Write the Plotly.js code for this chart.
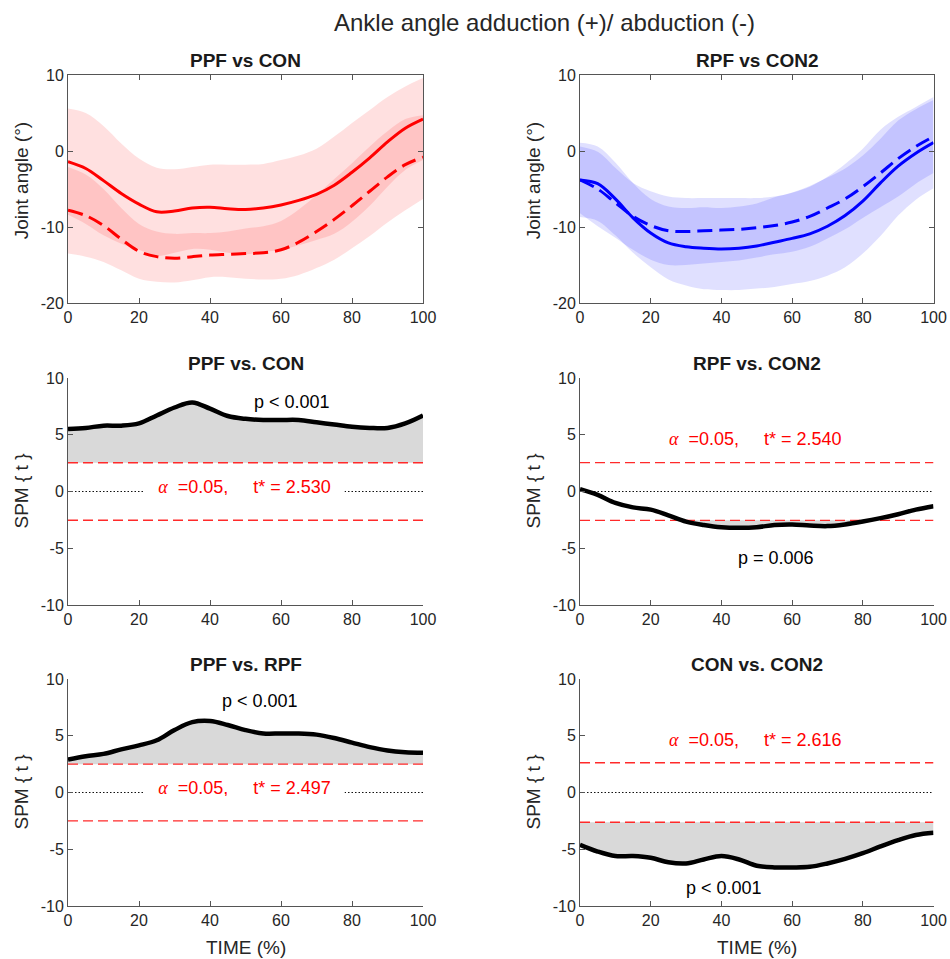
<!DOCTYPE html>
<html><head><meta charset="utf-8">
<script src="https://cdn.plot.ly/plotly-3.0.1.min.js"></script>
<style>body{margin:0;background:#fff}#chart{width:950px;height:959px}</style>
</head><body><div id="chart"></div>
<script>
// ---------- DATA ----------
const time = [0,5,10,15,20,25,30,35,40,45,50,55,60,65,70,75,80,85,90,95,100];

// Panel 1: PPF (solid) vs CON (dashed), joint angle (deg)
const ppfMean = [-1.4,-2.3,-3.9,-5.6,-7.0,-8.0,-7.9,-7.5,-7.4,-7.6,-7.7,-7.5,-7.1,-6.5,-5.7,-4.5,-2.8,-0.9,1.2,3.0,4.2];
const ppfSD   = [7.0,7.3,7.2,6.6,6.0,5.8,5.5,5.4,5.6,5.8,5.9,5.8,5.9,5.9,6.0,6.4,6.5,6.3,5.9,5.5,5.4];
const conMean = [-7.8,-8.5,-9.8,-11.6,-13.2,-13.9,-14.1,-13.9,-13.7,-13.6,-13.5,-13.4,-13.0,-12.0,-10.6,-9.0,-7.2,-5.3,-3.4,-1.8,-0.8];
const conSD   = [5.7,5.4,4.8,4.1,3.6,3.3,3.2,3.1,2.9,3.0,3.3,3.5,3.8,4.3,4.8,5.3,5.6,5.9,6.0,6.0,5.5];

// Panel 2: RPF (solid) vs CON2 (dashed), joint angle (deg)
const rpfMean  = [-3.8,-4.3,-6.3,-8.8,-10.8,-12.1,-12.6,-12.8,-12.9,-12.8,-12.5,-12.0,-11.5,-10.9,-9.9,-8.5,-6.6,-4.2,-2.0,-0.3,1.1];
const rpfSD    = [4.9,4.9,4.8,4.6,4.5,4.8,5.1,5.4,5.4,5.5,5.6,5.9,6.0,6.2,6.5,6.8,6.9,7.0,6.5,6.1,6.0];
const con2Mean = [-3.8,-5.0,-6.8,-8.6,-9.8,-10.5,-10.6,-10.5,-10.4,-10.3,-10.1,-9.8,-9.35,-8.6,-7.5,-6.3,-4.7,-2.9,-1.0,0.6,1.9];
const con2SD   = [4.4,4.9,4.6,4.4,4.5,4.5,4.4,4.3,4.2,4.1,3.9,3.8,3.9,4.0,4.0,4.0,4.1,4.5,5.0,4.9,4.8];

// SPM{t} curves
const spmPPFvsCON  = [5.5,5.6,5.8,5.8,6.0,6.7,7.4,7.85,7.3,6.65,6.4,6.3,6.3,6.3,6.1,5.9,5.7,5.6,5.6,6.0,6.7];
const spmRPFvsCON2 = [0.2,-0.3,-1.0,-1.4,-1.6,-2.1,-2.65,-2.95,-3.15,-3.2,-3.15,-2.95,-2.9,-3.0,-3.05,-2.9,-2.65,-2.35,-2.0,-1.6,-1.3];
const spmPPFvsRPF  = [2.9,3.2,3.4,3.8,4.15,4.6,5.5,6.2,6.3,5.95,5.5,5.2,5.2,5.2,5.1,4.8,4.4,4.0,3.7,3.55,3.5];
const spmCONvsCON2 = [-4.6,-5.2,-5.6,-5.6,-5.75,-6.15,-6.25,-5.9,-5.6,-5.9,-6.45,-6.6,-6.6,-6.55,-6.25,-5.85,-5.35,-4.75,-4.2,-3.75,-3.55];

const tStar   = [2.530, 2.540, 2.497, 2.616];
const pLabels = ['p < 0.001', 'p = 0.006', 'p < 0.001', 'p < 0.001'];
const alphaText = '0.05';
const panelTitles = ['PPF vs CON', 'RPF vs CON2', 'PPF vs. CON', 'RPF vs. CON2', 'PPF vs. RPF', 'CON vs. CON2'];
const mainTitle = 'Ankle angle adduction (+)/ abduction (-)';
const angleLabel = 'Joint angle (°)';
const spmLabel = 'SPM { t }';
const timeLabel = 'TIME (%)';
const xTicks = [0,20,40,60,80,100];
const angleTicks = [-20,-10,0,10];
const spmTicks = [-10,-5,0,5,10];

// ---------- STYLE / LAYOUT ----------
const FONT = 'Liberation Sans, Arial, Helvetica, sans-serif';
const TXT = '#262626';
const AX = '#555555';
const W = 950, H = 959;
const colL = [68/W, 423/W], colR = [580/W, 933.5/W];
const rowT = [1-303/H, 1-75/H], rowM = [1-605/H, 1-378/H], rowB = [1-906/H, 1-679/H];
const doms = [[colL,rowT],[colR,rowT],[colL,rowM],[colR,rowM],[colL,rowB],[colR,rowB]];

const traces = [];
function axn(i){ return i===0 ? '' : String(i+1); }
function tr(i, o){ o.xaxis='x'+axn(i); o.yaxis='y'+axn(i); o.showlegend=false; o.hoverinfo='skip'; traces.push(o); }

function band(i, mean, sd, color){
  const up = mean.map((m,k)=>m+sd[k]);
  const lo = mean.map((m,k)=>m-sd[k]);
  tr(i,{x:time,y:up,mode:'lines',line:{width:0,shape:'spline'}});
  tr(i,{x:time,y:lo,mode:'lines',fill:'tonexty',fillcolor:color,line:{width:0,shape:'spline'}});
}
// Panel 1
band(0, ppfMean, ppfSD, 'rgba(255,0,0,0.12)');
band(0, conMean, conSD, 'rgba(255,0,0,0.12)');
tr(0,{x:time,y:conMean,mode:'lines',line:{color:'#ff0000',width:3,dash:'15px,7px',shape:'spline'}});
tr(0,{x:time,y:ppfMean,mode:'lines',line:{color:'#ff0000',width:3,shape:'spline'}});
// Panel 2
band(1, rpfMean, rpfSD, 'rgba(0,0,255,0.12)');
band(1, con2Mean, con2SD, 'rgba(0,0,255,0.12)');
tr(1,{x:time,y:con2Mean,mode:'lines',line:{color:'#0000ff',width:3,dash:'15px,7px',shape:'spline'}});
tr(1,{x:time,y:rpfMean,mode:'lines',line:{color:'#0000ff',width:3,shape:'spline'}});

// SPM panels
const spmCurves = [spmPPFvsCON, spmRPFvsCON2, spmPPFvsRPF, spmCONvsCON2];
spmCurves.forEach((v, j) => {
  const i = j + 2, thr = tStar[j];
  const base = time.map(()=>thr), nbase = time.map(()=>-thr);
  if (v.some(a=>a>thr)) {
    tr(i,{x:time,y:base,mode:'lines',line:{width:0}});
    tr(i,{x:time,y:v.map(a=>Math.max(a,thr)),mode:'lines',fill:'tonexty',fillcolor:'#d9d9d9',line:{width:0,shape:'spline'}});
  }
  if (v.some(a=>a<-thr)) {
    tr(i,{x:time,y:nbase,mode:'lines',line:{width:0}});
    tr(i,{x:time,y:v.map(a=>Math.min(a,-thr)),mode:'lines',fill:'tonexty',fillcolor:'#d9d9d9',line:{width:0,shape:'spline'}});
  }
  tr(i,{x:[0,100],y:[0,0],mode:'lines',line:{color:'#111111',width:1,dash:'1.5px,2px'}});
  tr(i,{x:[0,100],y:[thr,thr],mode:'lines',line:{color:'#ff2a2a',width:1.4,dash:'10px,5px'}});
  tr(i,{x:[0,100],y:[-thr,-thr],mode:'lines',line:{color:'#ff2a2a',width:1.4,dash:'10px,5px'}});
  tr(i,{x:time,y:v,mode:'lines',line:{color:'#000000',width:4.5,shape:'spline'}});
});

const layout = {
  width: W, height: H, margin:{l:0,r:0,t:0,b:0},
  paper_bgcolor:'#ffffff', plot_bgcolor:'rgba(0,0,0,0)',
  font:{family:FONT, color:TXT, size:16},
  annotations: [], showlegend:false
};
doms.forEach((d, i) => {
  const top = i < 2;
  const tick = (vals) => vals.map(v => String(v));
  layout['xaxis'+axn(i)] = {
    domain:d[0], anchor:'y'+axn(i), range:[0,100], tickvals:xTicks, ticktext:tick(xTicks),
    ticks:'inside', ticklen:5, tickwidth:1, tickcolor:AX, showline:true, linecolor:AX, linewidth:1,
    mirror: top ? 'ticks' : false, showgrid:false, zeroline:false, fixedrange:true,
    tickfont:{family:FONT,size:16,color:TXT}
  };
  const yt = top ? angleTicks : spmTicks;
  layout['yaxis'+axn(i)] = {
    domain:d[1], anchor:'x'+axn(i), range: top ? [-20,10] : [-10,10], tickvals:yt, ticktext:tick(yt),
    ticks:'inside', ticklen:5, tickwidth:1, tickcolor:AX, showline:true, linecolor:AX, linewidth:1,
    mirror: top ? 'ticks' : false, showgrid:false, zeroline:false, fixedrange:true,
    tickfont:{family:FONT,size:16,color:TXT}
  };
  // panel title
  layout.annotations.push({xref:'paper',yref:'paper',x:(d[0][0]+d[0][1])/2,y:d[1][1],yanchor:'bottom',xanchor:'center',
    yshift:2,showarrow:false,text:'<b>'+panelTitles[i]+'</b>',font:{family:FONT,size:19,color:'#1a1a1a'}});
  // y axis title
  const yc = (d[1][0]+d[1][1])/2 + (top ? 0.008 : 0);
  layout.annotations.push({xref:'paper',yref:'paper',x:(i%2===0 ? 21 : 533)/W,y:yc,xanchor:'center',yanchor:'middle',
    textangle:-90,showarrow:false,text: top ? angleLabel : spmLabel,font:{family:FONT,size:19,color:TXT}});
  if (i >= 4) {
    layout.annotations.push({xref:'paper',yref:'paper',x:(d[0][0]+d[0][1])/2,y:1-947/H,xanchor:'center',yanchor:'middle',
      showarrow:false,text:timeLabel,font:{family:FONT,size:19,color:TXT}});
  }
});

// SPM annotations: alpha/t* labels and p values
const alphaPos = [[49.7,0.4,true],[49.6,4.6,false],[49.7,0.4,true],[49.6,4.6,false]];
const pPos = [[63,7.9],[55.4,-5.9],[54.1,8.1],[40.6,-8.4]];
spmCurves.forEach((v, j) => {
  const i = j + 2, s = axn(i);
  const txt = '<span style="font-family:Liberation Serif, Times New Roman, serif"><i>α</i></span>\u00a0\u00a0=' + alphaText +
              ',\u00a0\u00a0\u00a0\u00a0\u00a0t* = ' + tStar[j].toFixed(3);
  const a = {xref:'x'+s,yref:'y'+s,x:alphaPos[j][0],y:alphaPos[j][1],xanchor:'center',yanchor:'middle',showarrow:false,
    text:txt,font:{family:FONT,size:18,color:'#ff0000'}};
  if (alphaPos[j][2]) { a.bgcolor = '#ffffff'; a.width = 197; a.height = 16; }
  layout.annotations.push(a);
  layout.annotations.push({xref:'x'+s,yref:'y'+s,x:pPos[j][0],y:pPos[j][1],xanchor:'center',yanchor:'middle',showarrow:false,
    text:pLabels[j],font:{family:FONT,size:18,color:'#000000'}});
});

// main title
layout.annotations.push({xref:'paper',yref:'paper',x:544.5/W,y:1-23/H,xanchor:'center',yanchor:'middle',showarrow:false,
  text:mainTitle,font:{family:FONT,size:24,color:TXT}});

Plotly.newPlot('chart', traces, layout, {staticPlot:true, displayModeBar:false});
</script>
</body></html>
